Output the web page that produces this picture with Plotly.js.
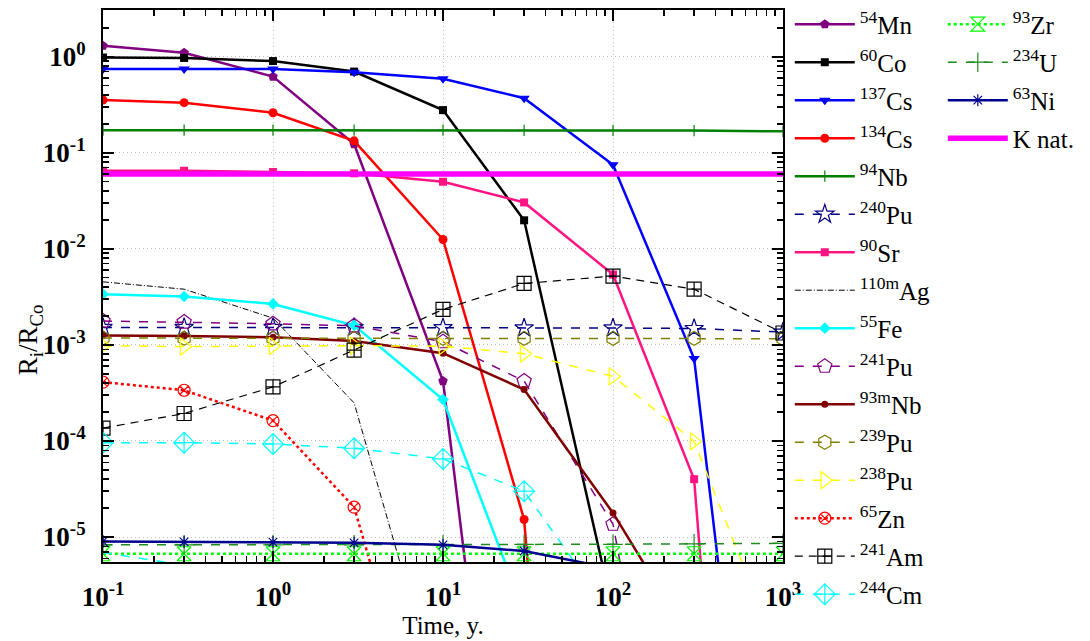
<!DOCTYPE html>
<html>
<head>
<meta charset="utf-8">
<script src="https://cdn.plot.ly/plotly-3.0.1.min.js"></script>
<style>
  html, body { margin: 0; padding: 0; background: #fff; }
  #chart { width: 1090px; height: 641px; }
</style>
</head>
<body>
<div id="chart"></div>
<script>
// Time after shutdown, years
const years = [0.1, 0.3, 1, 3, 10, 30, 100, 300, 1000];

// Activity ratios R_i / R_Co for each nuclide
const mn54   = [1.30, 1.10, 0.62, 0.123, 4.2e-4, 5e-11];
const co60   = [0.98, 0.97, 0.90, 0.70, 0.278, 0.0198, 1.7e-6];
const cs137  = [0.745, 0.745, 0.745, 0.69, 0.59, 0.37, 0.075, 7.2e-4, 1e-11];
const cs134  = [0.354, 0.332, 0.261, 0.133, 0.0125, 1.52e-5, 1e-16];
const nb94   = [0.172, 0.172, 0.172, 0.172, 0.172, 0.171, 0.171, 0.170, 0.167];
const pu240  = [1.52e-3, 1.52e-3, 1.52e-3, 1.52e-3, 1.51e-3, 1.50e-3, 1.50e-3, 1.48e-3, 1.36e-3];
const sr90   = [0.0649, 0.065, 0.063, 0.0611, 0.0499, 0.0304, 5.4e-3, 4.0e-5, 1e-16];
const ag110m = [4.53e-3, 3.8e-3, 1.9e-3, 2.49e-4, 1.5e-7];
const fe55   = [3.37e-3, 3.19e-3, 2.67e-3, 1.6e-3, 2.7e-4, 1.65e-6];
const pu241  = [1.77e-3, 1.73e-3, 1.66e-3, 1.58e-3, 1.08e-3, 4.2e-4, 1.36e-5, 4e-10];
const nb93m  = [1.25e-3, 1.24e-3, 1.20e-3, 1.10e-3, 8.2e-4, 3.43e-4, 1.78e-5, 7.4e-7];
const pu239  = [1.18e-3, 1.17e-3, 1.17e-3, 1.17e-3, 1.17e-3, 1.17e-3, 1.17e-3, 1.17e-3, 1.16e-3];
const pu238  = [9.8e-4, 9.6e-4, 9.7e-4, 9.8e-4, 9.7e-4, 8.1e-4, 4.7e-4, 9.9e-5, 4.6e-7];
const zn65   = [4.1e-4, 3.37e-4, 1.63e-4, 2.05e-5, 1.3e-8];
const am241  = [1.36e-4, 1.93e-4, 3.65e-4, 8.8e-4, 2.34e-3, 4.36e-3, 5.2e-3, 3.8e-3, 1.33e-3];
const cm244  = [9.6e-5, 9.6e-5, 9.3e-5, 8.4e-5, 6.5e-5, 3.0e-5, 1.5e-6];
const zr93   = [6.7e-6, 6.7e-6, 6.7e-6, 6.7e-6, 6.7e-6, 6.7e-6, 6.7e-6, 6.7e-6, 6.7e-6];
const u234   = [8.3e-6, 8.3e-6, 8.3e-6, 8.3e-6, 8.3e-6, 8.4e-6, 8.4e-6, 8.5e-6, 8.6e-6];
const ni63   = [9.0e-6, 8.9e-6, 8.85e-6, 8.7e-6, 8.3e-6, 7.15e-6, 4.7e-6];
const knat   = [0.06, 0.06, 0.06, 0.06, 0.06, 0.06, 0.06, 0.06, 0.06];
const lowCyan = [6.9e-6, 5.1e-6, 1e-6];

// Axis tick labels
const xTickVals = [0.1, 1, 10, 100, 1000];
const xTickText = ['10<sup>-1</sup>', '10<sup>0</sup>', '10<sup>1</sup>', '10<sup>2</sup>', '10<sup>3</sup>'];
const yTickVals = [1e-5, 1e-4, 1e-3, 1e-2, 1e-1, 1];
const yTickText = ['10<sup>-5</sup>', '10<sup>-4</sup>', '10<sup>-3</sup>', '10<sup>-2</sup>', '10<sup>-1</sup>', '10<sup>0</sup>'];

// minor tick positions: 2..9 within each decade
function minorTicks(lo, hi) {
  const out = [];
  for (let e = lo; e < hi; e++) {
    for (let m = 2; m <= 9; m++) out.push(m * Math.pow(10, e));
  }
  return out;
}

let groupId = 0;
function series(name, ys, opts) {
  groupId += 1;
  const t = {
    type: 'scatter',
    mode: opts.symbol ? 'lines+markers' : 'lines',
    name: name,
    x: years.slice(0, ys.length),
    y: ys,
    legend: opts.legend || 'legend',
    legendgroup: 'g' + groupId,
    line: { color: opts.color, width: opts.width || 2.5, dash: opts.dash || 'solid' },
    showlegend: opts.showlegend !== false
  };
  if (opts.symbol) {
    const open = opts.symbol.indexOf('open') >= 0;
    t.marker = {
      symbol: opts.symbol,
      size: opts.size || 9,
      color: opts.color,
      line: { color: opts.color, width: open ? 1.2 : 0 }
    };
  }
  return t;
}

const traces = [
  series('<sup>54</sup>Mn', mn54, { color: '#800080', symbol: 'pentagon', size: 10 }),
  series('<sup>60</sup>Co', co60, { color: '#000000', symbol: 'square', size: 8 }),
  series('<sup>137</sup>Cs', cs137, { color: '#0000ff', symbol: 'triangle-down', size: 10 }),
  series('<sup>134</sup>Cs', cs134, { color: '#ff0000', symbol: 'circle', size: 9 }),
  series('<sup>94</sup>Nb', nb94, { color: '#008000', symbol: 'cross-thin-open', size: 8 }),
  series('<sup>240</sup>Pu', pu240, { color: '#000080', symbol: 'star-open', size: 14, dash: 'dash', width: 1.5 }),
  series('<sup>90</sup>Sr', sr90, { color: '#ff1482', symbol: 'square', size: 8 }),
  series('<sup>110m</sup>Ag', ag110m, { color: '#000000', dash: '6px,2px,1px,2px', width: 1 }),
  series('<sup>55</sup>Fe', fe55, { color: '#00ffff', symbol: 'diamond', size: 9 }),
  series('<sup>241</sup>Pu', pu241, { color: '#800080', symbol: 'pentagon-open', size: 15, dash: 'dash', width: 1.5 }),
  series('<sup>93m</sup>Nb', nb93m, { color: '#800000', symbol: 'circle', size: 7 }),
  series('<sup>239</sup>Pu', pu239, { color: '#808000', symbol: 'hexagon-open', size: 14, dash: 'dash', width: 1.5 }),
  series('<sup>238</sup>Pu', pu238, { color: '#ffff00', symbol: 'triangle-right-open', size: 15, dash: 'dash', width: 1.5 }),
  series('<sup>65</sup>Zn', zn65, { color: '#ff0000', symbol: 'circle-x-open', size: 12, dash: 'dot', width: 2.5 }),
  series('<sup>241</sup>Am', am241, { color: '#000000', symbol: 'square-cross-open', size: 14, dash: '8px,6px', width: 1.2 }),
  series('<sup>244</sup>Cm', cm244, { color: '#00ffff', symbol: 'diamond-cross-open', size: 16, dash: 'dash', width: 1.5 }),
  series('<sup>93</sup>Zr', zr93, { color: '#00ff00', symbol: 'hourglass-open', size: 14, dash: 'dot', width: 2.5, legend: 'legend2' }),
  series('<sup>234</sup>U', u234, { color: '#1f8c1f', symbol: 'cross-thin-open', size: 14, dash: 'dash', width: 1.5, legend: 'legend2' }),
  series('<sup>63</sup>Ni', ni63, { color: '#000090', symbol: 'asterisk-open', size: 10, width: 2.5, legend: 'legend2' }),
  series('K nat.', knat, { color: '#ff00ff', width: 5.5, legend: 'legend2' }),
  series('', lowCyan, { color: '#00ffff', dash: 'dash', width: 1.5, showlegend: false })
];

const serif = '"Liberation Serif", "Times New Roman", Times, serif';
const axisCommon = {
  type: 'log',
  tickmode: 'array',
  ticks: 'inside',
  ticklen: 11,
  tickwidth: 2,
  tickcolor: '#000',
  showline: true,
  linewidth: 2,
  linecolor: '#000',
  mirror: 'allticks',
  showgrid: true,
  gridcolor: '#bdbdbd',
  griddash: '1px,3px',
  gridwidth: 1,
  zeroline: false,
  automargin: false,
  tickfont: { family: serif, size: 27, color: '#000', weight: 'bold' }
};

const legendCommon = {
  font: { family: serif, size: 25, color: '#000' },
  bgcolor: 'rgba(0,0,0,0)',
  borderwidth: 0,
  itemwidth: 60,
  tracegroupgap: 2.5,
  maxheight: 640,
  xanchor: 'left',
  yanchor: 'top',
  itemclick: false
};

const layout = {
  width: 1090,
  height: 641,
  margin: { l: 103, r: 307, t: 10, b: 79, autoexpand: false },
  paper_bgcolor: '#fff',
  plot_bgcolor: '#fff',
  showlegend: true,
  xaxis: Object.assign({}, axisCommon, {
    range: [-1, 3],
    tickvals: xTickVals,
    ticktext: xTickText,
    ticklabelstandoff: 10,
    minor: { tickmode: 'array', tickvals: minorTicks(-1, 3), ticks: 'inside', ticklen: 6, tickwidth: 1.5, tickcolor: '#000', showgrid: false },
    title: { text: 'Time, y.', font: { family: serif, size: 25, color: '#000' }, standoff: 5 }
  }),
  yaxis: Object.assign({}, axisCommon, {
    range: [-5.26, 0.486],
    tickvals: yTickVals,
    ticktext: yTickText,
    ticklabelstandoff: 10,
    minor: { tickmode: 'array', tickvals: minorTicks(-6, 1), ticks: 'inside', ticklen: 6, tickwidth: 1.5, tickcolor: '#000', showgrid: false }
  }),
  legend: Object.assign({}, legendCommon, { x: 1.01, y: 1.0155 }),
  legend2: Object.assign({}, legendCommon, { x: 1.235, y: 1.0155 }),
  annotations: [{
    text: 'R<sub>i</sub>/R<sub>Co</sub>',
    xref: 'paper', yref: 'paper',
    x: -0.107, y: 0.402,
    xanchor: 'center', yanchor: 'middle',
    textangle: -90,
    showarrow: false,
    font: { family: serif, size: 27, color: '#000' }
  }]
};

Plotly.newPlot('chart', traces, layout, { staticPlot: true, displayModeBar: false });
</script>
</body>
</html>
